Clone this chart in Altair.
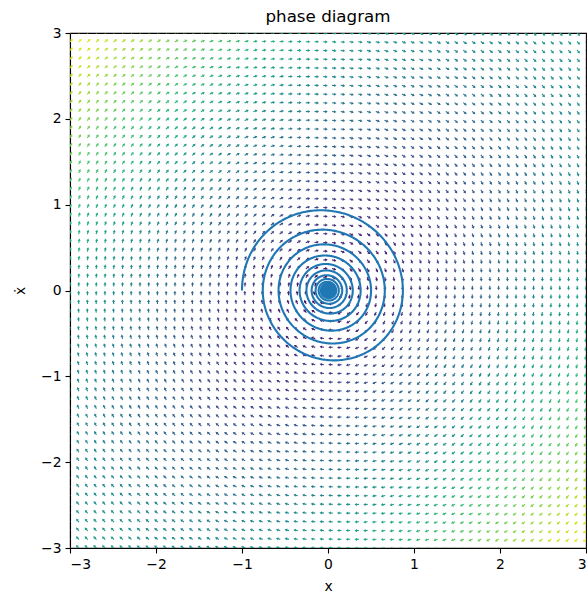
import numpy as np
import pandas as pd
import altair as alt

# ---- values ----
grid_x = np.linspace(-3, 3, 60)      # arrow columns
grid_v = np.linspace(-3, 3, 60)      # arrow rows
damping = 0.088                      # estimated from spiral decay (~0.87 per half turn)
start_state = [-1.0, 0.0]            # trajectory start (x, xdot)
t_end = 120.0
dt = 0.01
tick_values = [-3, -2, -1, 0, 1, 2, 3]

# ---- vector field ----
X, V = np.meshgrid(grid_x, grid_v)
U = V
W = -X - damping * V
norm = np.hypot(U, W)
u = U / norm
w = W / norm
mag = np.sqrt(X**2 + V**2 - X * V)
angle = (np.degrees(np.arctan2(u, w)) + 360.0) % 360.0
half = 0.022  # arrows drawn from their tail (pivot at grid point)
field = pd.DataFrame({
    "x": (X + half * u).ravel(),
    "v": (V + half * w).ravel(),
    "angle": angle.ravel(),
    "m": mag.ravel(),
})

# ---- trajectory (RK4) ----
def f(s):
    return np.array([s[1], -s[0] - damping * s[1]])

s = np.array(start_state, dtype=float)
pts = [s.copy()]
n = int(t_end / dt)
for _ in range(n):
    k1 = f(s)
    k2 = f(s + 0.5 * dt * k1)
    k3 = f(s + 0.5 * dt * k2)
    k4 = f(s + dt * k3)
    s = s + dt / 6.0 * (k1 + 2 * k2 + 2 * k3 + k4)
    pts.append(s.copy())
pts = np.array(pts)[::2]
traj = pd.DataFrame({"x": pts[:, 0], "v": pts[:, 1], "i": np.arange(len(pts))})

xscale = alt.Scale(domain=[-3, 3], nice=False, zero=False)
yscale = alt.Scale(domain=[-3, 3], nice=False, zero=False)

xaxis = alt.Axis(values=tick_values, title="x", grid=False, format="d", titlePadding=9)
yaxis = alt.Axis(values=tick_values, title="ẋ", grid=False, format="d", titlePadding=13)

arrow_path = "M0,-1L0.7,0.1L0.25,0.1L0.25,1L-0.25,1L-0.25,0.1L-0.7,0.1Z"

arrows = alt.Chart(field).mark_point(
    shape=arrow_path, filled=True, size=20, opacity=1, strokeWidth=0, clip=True
).encode(
    x=alt.X("x:Q", scale=xscale, axis=xaxis),
    y=alt.Y("v:Q", scale=yscale, axis=yaxis),
    angle=alt.Angle("angle:Q", scale=None),
    color=alt.Color("m:Q", scale=alt.Scale(scheme="viridis", domain=[float(mag.min()), float(mag.max())]), legend=None),
)

line = alt.Chart(traj).mark_line(color="#1f77b4", strokeWidth=2.1, clip=True).encode(
    x=alt.X("x:Q", scale=xscale),
    y=alt.Y("v:Q", scale=yscale),
    order="i:Q",
)

chart = alt.layer(arrows, line).properties(
    width=516,
    height=515,
    background="white",
    title=alt.TitleParams("phase diagram", fontSize=16.7, fontWeight="normal",
                          font="DejaVu Sans", color="black", offset=0),
    autosize=alt.AutoSizeParams(type="none"),
    padding={"left": 70, "top": 33, "right": 1, "bottom": 46},
).configure_view(
    stroke="black", strokeWidth=1.1
).configure_axis(
    labelFont="DejaVu Sans", titleFont="DejaVu Sans",
    labelFontSize=13.9, titleFontSize=13.9, titleFontWeight="normal",
    labelColor="black", titleColor="black",
    domainColor="black", tickColor="black", domainWidth=1.1, tickWidth=1.1,
    tickSize=5, labelPadding=4,
)

chart.save("out.html", embed_options={"renderer": "svg", "actions": False})
